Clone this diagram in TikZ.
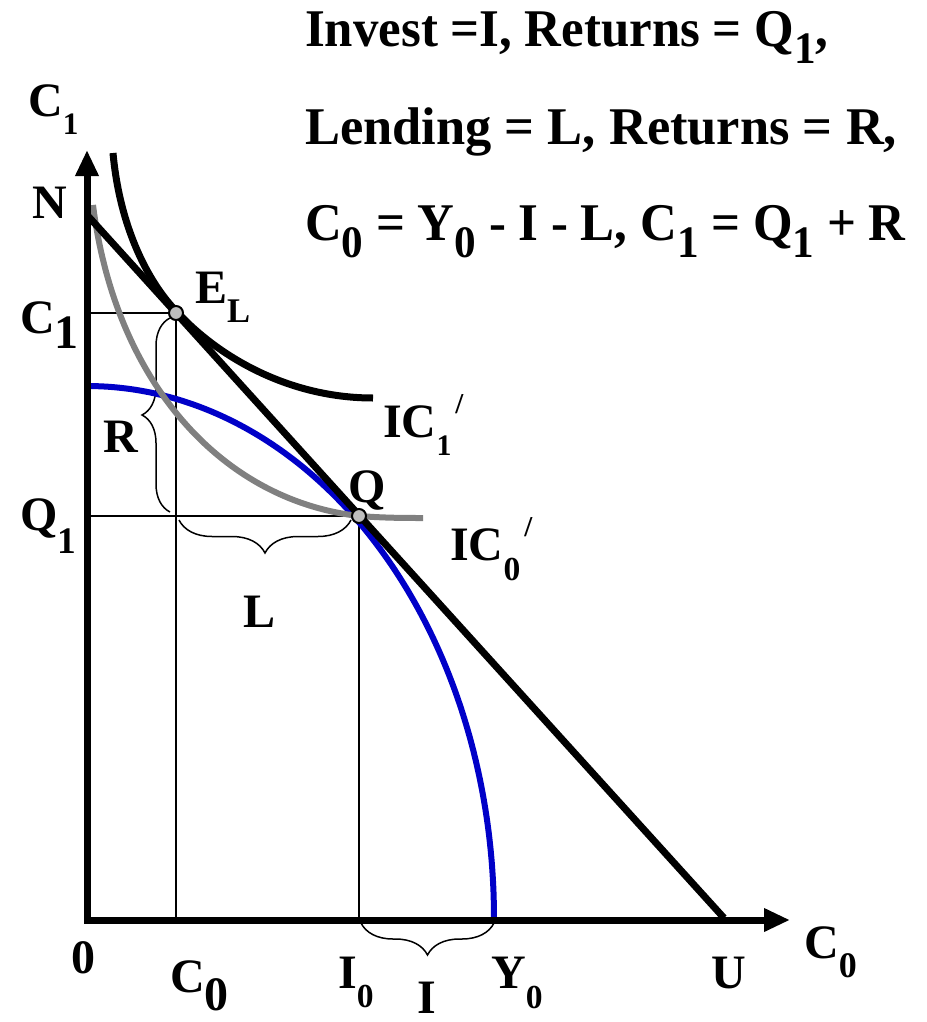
\documentclass[tikz,border=0pt]{standalone}
\usepackage{fontspec}
\usepackage{graphicx}
\setmainfont{Liberation Serif}
\newfontfamily\hdrfont{Liberation Serif}[FakeStretch=0.96]
\newfontfamily\hdrwfont{Liberation Serif}[FakeStretch=0.99]
\usetikzlibrary{decorations.pathreplacing,arrows.meta}
\newcommand{\sbs}[3]{\raisebox{-#2pt}{\scalebox{#1}{#3}}}
\newcommand{\prm}[1]{\kern4pt\raisebox{#1pt}{\scalebox{0.6}{/}}}
\definecolor{ppfblue}{RGB}{0,0,200}
\definecolor{icgray}{RGB}{128,128,128}
\definecolor{dotgray}{RGB}{190,190,190}
\begin{document}
\begin{tikzpicture}[x=1pt,y=-1pt,
  lbl/.style={font=\fontsize{48}{48}\selectfont\bfseries, inner sep=0pt, anchor=base west},
  hdr/.style={font=\hdrfont\fontsize{53}{53}\selectfont\bfseries, inner sep=0pt, anchor=base west},
  hdrw/.style={font=\hdrwfont\fontsize{53}{53}\selectfont\bfseries, inner sep=0pt, anchor=base west},
  thin/.style={line width=1.5pt, black},
  bracestyle/.style={thin, decorate},
  dot/.style={circle, fill=dotgray, draw=black, line width=2pt, minimum size=14pt, inner sep=0pt}]
\useasboundingbox (0,0) rectangle (926,1022);
% key points
\coordinate (O) at (87,920);
\coordinate (EL) at (176,313);
\coordinate (Qp) at (359,516);
\coordinate (N) at (88,216);
\coordinate (U) at (724,918);
% guide lines
\draw[thin] (87,313) -- (EL) -- (176,920);
\draw[thin] (87,516) -- (Qp) -- (359,920);
% braces
\draw[bracestyle, decoration={brace, amplitude=28pt}] (170,512) -- (170,318);
\draw[bracestyle, decoration={brace, amplitude=33pt}] (351,520) -- (179,520);
\draw[bracestyle, decoration={brace, amplitude=32pt}] (494,923) -- (361,923);
% PPF
\draw[ppfblue, line width=6pt] plot[smooth, domain=90:0, samples=60, variable=\t] ({87+407*cos(\t)},{918-532*sin(\t)});
% IC0'
\draw[icgray, line width=6pt] (93,205) .. controls (115,380) and (220,500) .. (Qp) .. controls (385,518) and (405,518) .. (423,518);
% budget line
\draw[black, line width=7pt] (N) -- (U);
% IC1'
\draw[black, line width=7pt] (113,153) .. controls (120,230) and (150,285) .. (178,313) .. controls (220,358) and (290,398) .. (373,398);
% axes
\draw[black, line width=7pt, line join=miter, {Triangle[width=22pt,length=26pt]}-{Triangle[width=22pt,length=26pt]}] (87,150) -- (O) -- (790,920);
% dots
\node[dot] (ELdot) at (EL) {};
\node[dot] (Qdot) at (Qp) {};
% header
\node[hdr] (h1) at (305,47) {Invest =I, Returns = Q\sbs{0.85}{17}{1},};
\node[hdrw] (h2) at (305,144) {Lending = L, Returns = R,};
\node[hdr] (h3) at (305,240) {C\sbs{0.85}{17}{0} = Y\sbs{0.85}{17}{0} - I - L, C\sbs{0.85}{17}{1} = Q\sbs{0.85}{17}{1} + R};
% labels
\node[lbl] (lc1top) at (28,117) {C\sbs{0.65}{18}{1}};
\node[lbl] (lN) at (32,218) {N};
\node[lbl] (lc1) at (20,333) {C\sbs{1}{15}{1}};
\node[lbl] (lq1) at (20,530) {Q\sbs{0.78}{23}{1}};
\node[lbl] (lR) at (103,452) {R};
\node[lbl] (lL) at (243,627) {L};
\node[lbl] (lEL) at (195,303) {E\sbs{0.72}{19}{L}};
\node[lbl] (lIC1) at (383,437) {IC\sbs{0.62}{18}{1}\prm{24}};
\node[lbl] (lQ) at (348,502) {Q};
\node[lbl] (lIC0) at (450,560) {IC\sbs{0.7}{20}{0}\prm{24}};
\node[lbl] (l0) at (71,973) {0};
\node[lbl] (lC0) at (170,992) {C\sbs{1}{18}{0}};
\node[lbl] (lI0) at (338,988) {I\sbs{0.7}{19}{0}};
\node[lbl] (lI) at (417,1013) {I};
\node[lbl] (lY0) at (491,988) {Y\sbs{0.7}{20}{0}};
\node[lbl] (lU) at (711,988) {U};
\node[lbl] (lC0ax) at (804,958) {C\sbs{0.75}{19}{0}};
\end{tikzpicture}
\end{document}
